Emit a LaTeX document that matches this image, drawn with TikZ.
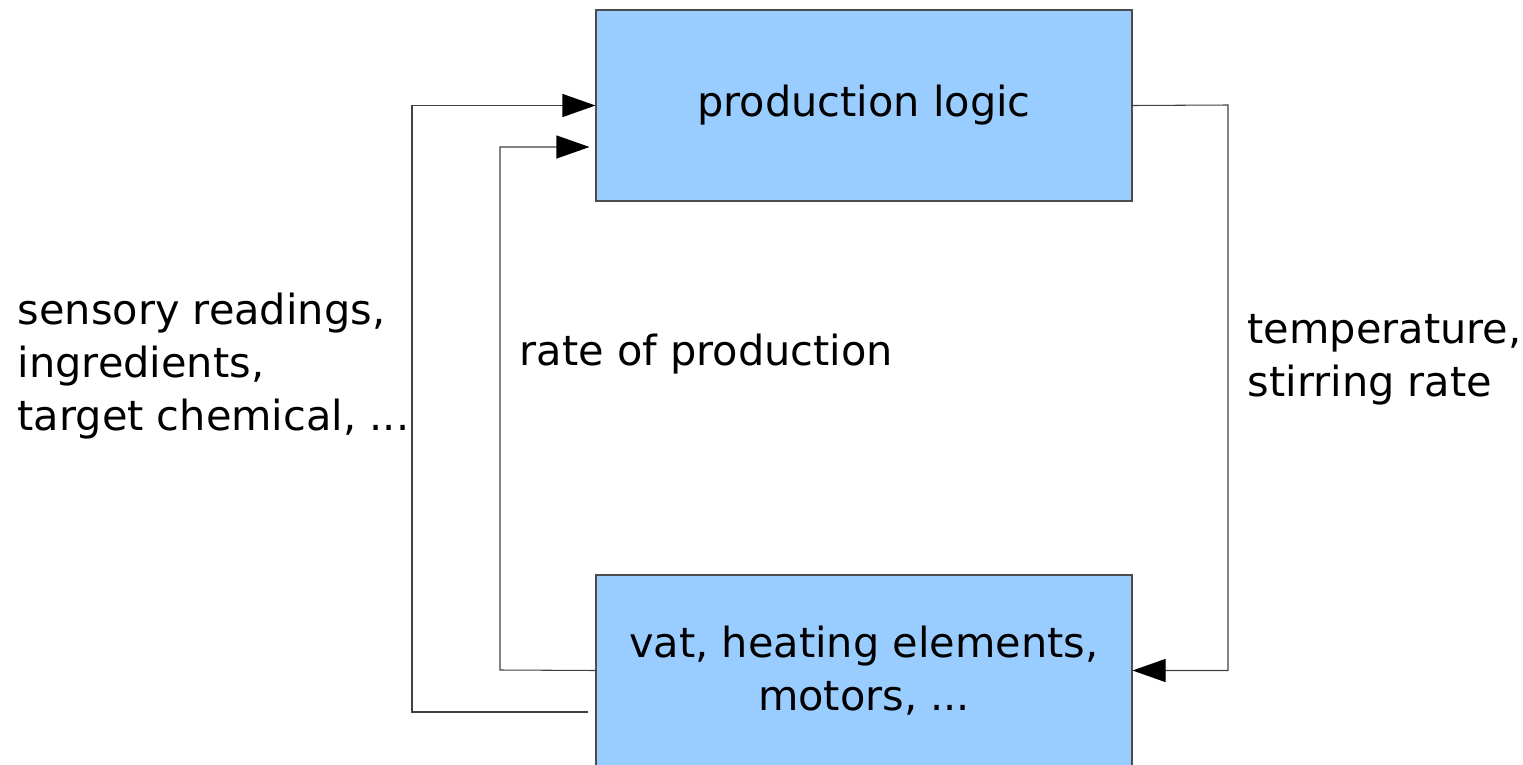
\documentclass[tikz,border=0pt]{standalone}
\usepackage{fontspec}
\setmainfont{DejaVu Sans}
\usepackage{xcolor}
\usetikzlibrary{arrows.meta}

\definecolor{boxblue}{HTML}{99CCFF}

\begin{document}
\begin{tikzpicture}[
    block/.style={draw=black!70, line width=0.3pt, fill=boxblue,
      minimum width=5.36cm, minimum height=1.91cm, align=center},
    flow/.style={line width=0.3pt, draw=black!75,
      -{Triangle[length=0.33cm, width=0.23cm, black]}},
    lbl/.style={anchor=west, align=left, inner sep=0pt},
    every node/.style={font=\fontsize{11.8}{15.2}\selectfont}
  ]
  \useasboundingbox (0,0) rectangle (15.23,7.64);

  % Draw the two blocks
  \node[block] (logic) at (8.64,6.585) {production logic};
  \node[block] (vat) at (8.64,0.935) {vat, heating elements,\\motors, ...};

  % Draw the corner points of the loops
  \coordinate (outerlo) at (4.12,0.52);
  \coordinate (innerlo) at (5.00,0.94);
  \coordinate (rightup) at (12.28,6.59);

  % Draw the feedback into the logic
  \draw[flow, shorten <=0.07cm] ([yshift=-0.415cm]vat.west) -- (outerlo) |- (logic.west);
  \draw[flow, shorten >=0.06cm] (vat.west) -- (innerlo) |- ([yshift=-0.415cm]logic.west);

  % Draw the control back into the vat
  \draw[flow] (logic.east) -- (rightup) |- (vat.east);

  % Draw the labels
  \node[lbl] (sensing) at (0.17,3.98) {sensory readings,\\ingredients,\\target chemical, ...};
  \node[lbl] (rate) at (5.19,4.10) {rate of production};
  \node[lbl] (control) at (12.47,4.04) {temperature,\\stirring rate};

\end{tikzpicture}
\end{document}
